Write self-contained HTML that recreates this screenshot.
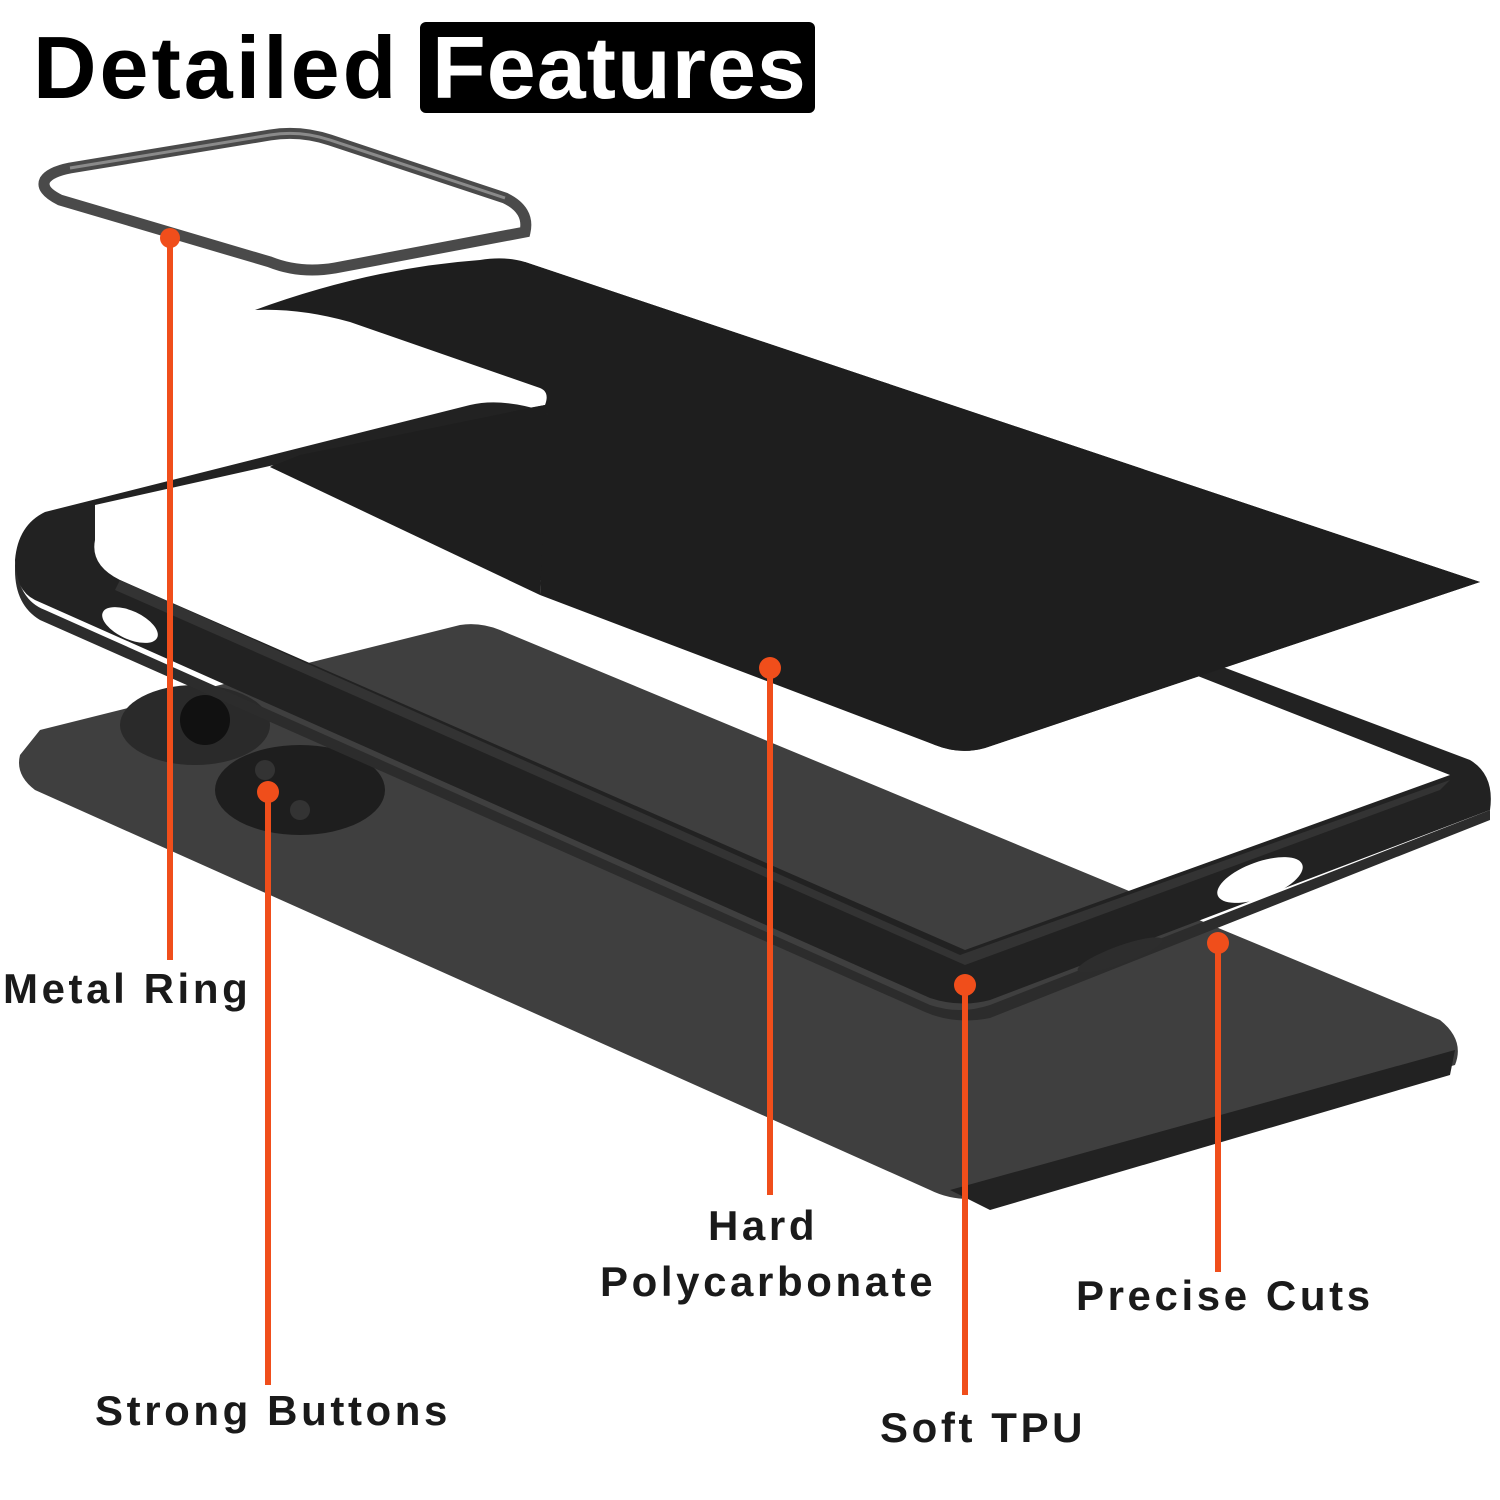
<!DOCTYPE html>
<html><head><meta charset="utf-8"><style>
html,body{margin:0;padding:0;background:#fff}
svg{display:block}
.l{font-family:"Liberation Sans",sans-serif;font-weight:bold;font-size:42px;letter-spacing:3.6px;fill:#1a1a1a}
</style></head><body>
<svg width="1500" height="1500" viewBox="0 0 1500 1500" xmlns="http://www.w3.org/2000/svg">
<rect width="1500" height="1500" fill="#fff"/>
<!-- title -->
<text x="33" y="98" font-family="Liberation Sans,sans-serif" font-weight="bold" font-size="88" letter-spacing="3" fill="#000">Detailed</text>
<rect x="420" y="22" width="395" height="91" rx="6" fill="#000"/>
<text x="432" y="98" font-family="Liberation Sans,sans-serif" font-weight="bold" font-size="88" letter-spacing="1" fill="#fff">Features</text>
<!-- phone -->
<path d="M40,730 L460,625 Q480,622 500,630 L1440,1020 Q1465,1040 1455,1065 L1000,1195 Q960,1205 930,1190 L35,790 Q15,775 20,755 Z" fill="#3f3f3f"/>
<path d="M950,1190 L1455,1050 L1450,1075 L990,1210 Z" fill="#222"/>
<ellipse cx="195" cy="725" rx="75" ry="40" fill="#2a2a2a"/>
<circle cx="205" cy="720" r="25" fill="#111"/>
<ellipse cx="300" cy="790" rx="85" ry="45" fill="#1e1e1e"/>
<circle cx="265" cy="770" r="10" fill="#333"/><circle cx="300" cy="810" r="10" fill="#333"/>
<!-- hard sheet (behind frame) -->
<path d="M255,310 Q370,268 480,260 Q505,256 525,262 L1480,582 L985,748 Q960,755 935,745 L270,467 L300,450 L545,405 Q550,392 540,388 L350,322 Q300,308 255,310 Z" fill="#1e1e1e"/>
<!-- TPU frame -->
<path fill="#222" fill-rule="evenodd" d="M45,512 L470,405 Q500,398 540,410 L1470,760 Q1495,775 1490,810 L990,1000 Q960,1008 930,998 L35,600 Q15,590 15,560 Q18,525 45,512 Z
 M95,505 L520,410 L1450,775 L965,950 L120,580 Q90,565 95,540 Z"/>
<path fill="#2c2c2c" d="M15,560 Q18,600 45,610 L930,1005 Q960,1015 990,1005 L1490,810 L1490,820 L990,1018 Q955,1025 925,1012 L40,620 Q15,605 15,570 Z"/>
<path d="M120,580 L960,955 L1450,780 L1440,790 L965,965 L115,590 Z" fill="#333"/>
<ellipse cx="130" cy="625" rx="30" ry="14" fill="#fff" transform="rotate(25 130 625)"/>
<ellipse cx="1260" cy="880" rx="45" ry="18" fill="#fff" transform="rotate(-20 1260 880)"/>
<ellipse cx="1120" cy="955" rx="45" ry="9" fill="#2d2d2d" transform="rotate(-20 1120 955)"/>
<circle cx="1362" cy="746" r="5" fill="#fff"/><circle cx="1388" cy="756" r="5" fill="#fff"/>
<!-- sheet part in front of frame -->
<path d="M540,595 L935,745 Q960,755 985,748 L1480,582 L525,262 L548,400 Z" fill="#1e1e1e"/>
<path d="M300,455 L545,405 L548,420 L540,595 L270,467 Z" fill="#1e1e1e"/>
<!-- metal ring -->
<path d="M70,168 L270,135 Q300,130 330,140 L505,198 Q530,210 525,232 L335,268 Q300,274 270,262 L60,200 Q40,190 45,180 Q50,172 70,168 Z" fill="none" stroke="#4a4a4a" stroke-width="11"/>
<path d="M70,168 L270,135 Q300,130 330,140 L505,198" fill="none" stroke="#8a8a8a" stroke-width="3"/>
<!-- leaders -->
<g stroke="#f04e1b" stroke-width="6" fill="#f04e1b">
<line x1="170" y1="238" x2="170" y2="960"/><circle cx="170" cy="238" r="10" stroke="none"/>
<line x1="268" y1="792" x2="268" y2="1385"/><circle cx="268" cy="792" r="11" stroke="none"/>
<line x1="770" y1="668" x2="770" y2="1195"/><circle cx="770" cy="668" r="11" stroke="none"/>
<line x1="965" y1="985" x2="965" y2="1395"/><circle cx="965" cy="985" r="11" stroke="none"/>
<line x1="1218" y1="943" x2="1218" y2="1272"/><circle cx="1218" cy="943" r="11" stroke="none"/>
</g>
<!-- labels -->
<text class="l" x="3" y="1003">Metal Ring</text>
<text class="l" x="95" y="1425">Strong Buttons</text>
<text class="l" x="708" y="1240">Hard</text>
<text class="l" x="600" y="1296">Polycarbonate</text>
<text class="l" x="1076" y="1310">Precise Cuts</text>
<text class="l" x="880" y="1442">Soft TPU</text>
</svg>
</body></html>
